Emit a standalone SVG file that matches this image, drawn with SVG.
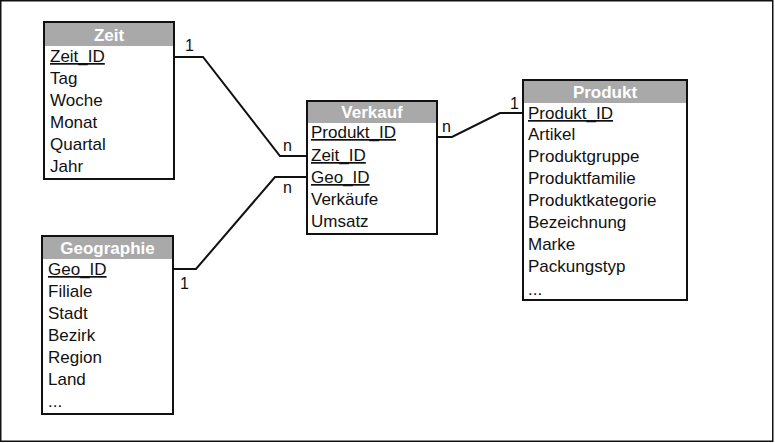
<svg xmlns="http://www.w3.org/2000/svg" width="775" height="443" viewBox="0 0 775 443">
<style>
.box{fill:#fff;stroke:#111;stroke-width:2}
.hdr{fill:#a9a9a9}
.ht{font-family:"Liberation Sans",Arial,sans-serif;font-size:17px;font-weight:bold;fill:#fff;text-anchor:middle}
.t{font-family:"Liberation Sans",Arial,sans-serif;font-size:17px;fill:#111}
.u{text-decoration:underline}
.c{fill:none;stroke:#111;stroke-width:2}
.lb{font-family:"Liberation Sans",Arial,sans-serif;font-size:16px;fill:#111}
</style>
<rect x="0.75" y="0.75" width="772" height="440.5" fill="#fff" stroke="#111" stroke-width="1.5"/>
<g id="connectors">
<polyline class="c" points="174,57 203,57 280,156 307,156"/>
<polyline class="c" points="173,269 196,269 275,177 307,177"/>
<polyline class="c" points="437,137 452,137 500,113 523,113"/>
<text class="lb" x="185" y="51">1</text>
<text class="lb" x="283" y="151">n</text>
<text class="lb" x="180" y="289">1</text>
<text class="lb" x="283" y="193">n</text>
<text class="lb" x="442" y="132">n</text>
<text class="lb" x="510" y="109">1</text>
</g>
<g id="zeit">
<rect class="box" x="44" y="22" width="130" height="157"/>
<rect class="hdr" x="45" y="23" width="128" height="23"/>
<text class="ht" x="109" y="41">Zeit</text>
<text class="t u" x="50" y="62">Zeit_ID</text>
<text class="t" x="50" y="84">Tag</text>
<text class="t" x="50" y="106">Woche</text>
<text class="t" x="50" y="128">Monat</text>
<text class="t" x="50" y="150">Quartal</text>
<text class="t" x="50" y="172">Jahr</text>
</g>
<g id="geographie">
<rect class="box" x="42" y="236" width="131" height="178"/>
<rect class="hdr" x="43" y="237" width="129" height="22"/>
<text class="ht" x="107.5" y="254">Geographie</text>
<text class="t u" x="48" y="275">Geo_ID</text>
<text class="t" x="48" y="297">Filiale</text>
<text class="t" x="48" y="319">Stadt</text>
<text class="t" x="48" y="341">Bezirk</text>
<text class="t" x="48" y="363">Region</text>
<text class="t" x="48" y="385">Land</text>
<text class="t" x="48" y="407">...</text>
</g>
<g id="verkauf">
<rect class="box" x="307" y="101" width="130" height="133"/>
<rect class="hdr" x="308" y="102" width="128" height="21"/>
<text class="ht" x="372" y="118">Verkauf</text>
<text class="t u" x="311" y="138">Produkt_ID</text>
<text class="t u" x="311" y="161">Zeit_ID</text>
<text class="t u" x="311" y="183">Geo_ID</text>
<text class="t" x="311" y="205">Verkäufe</text>
<text class="t" x="311" y="227">Umsatz</text>
</g>
<g id="produkt">
<rect class="box" x="523" y="80" width="164" height="220"/>
<rect class="hdr" x="524" y="81" width="162" height="22"/>
<text class="ht" x="605" y="98">Produkt</text>
<text class="t u" x="528" y="119">Produkt_ID</text>
<text class="t" x="528" y="140">Artikel</text>
<text class="t" x="528" y="162">Produktgruppe</text>
<text class="t" x="528" y="184">Produktfamilie</text>
<text class="t" x="528" y="206">Produktkategorie</text>
<text class="t" x="528" y="228">Bezeichnung</text>
<text class="t" x="528" y="250">Marke</text>
<text class="t" x="528" y="272">Packungstyp</text>
<text class="t" x="528" y="295">...</text>
</g>
</svg>
